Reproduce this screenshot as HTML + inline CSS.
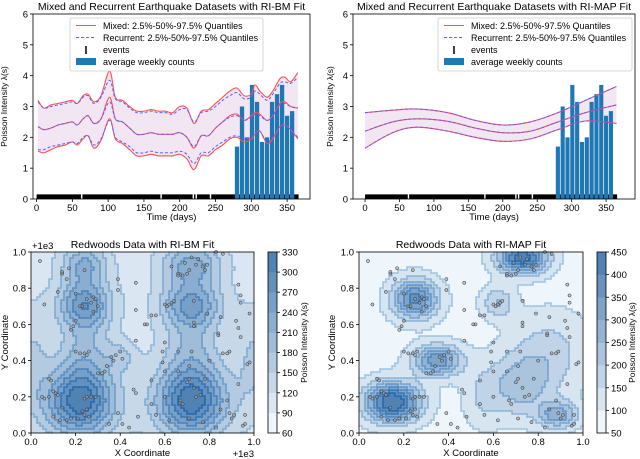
<!DOCTYPE html>
<html><head><meta charset="utf-8"><style>
html,body{margin:0;padding:0;background:#fff}
svg{display:block;font-family:"Liberation Sans","DejaVu Sans",sans-serif}
</style></head><body>
<svg id="fig" width="640" height="459" viewBox="0 0 640 459"></svg>
<script>
// ---------- Data ----------
const bmDays = [2,10,20,30,40,50,57,65,72,80,90,102,110,120,130,140,150,160,170,180,190,200,210,220,230,240,250,260,270,280,290,300,305,312,322,330,340,347,355,365];
const bmMixMed = [2.35,2.25,2.3,2.4,2.45,2.5,2.4,2.6,2.7,2.45,2.6,3.3,2.6,2.5,2.3,2.1,2.1,2.15,2.1,2.1,2.1,2.15,2.0,1.65,2.05,2.05,2.3,2.5,2.7,2.75,2.55,2.7,2.8,2.75,2.55,2.7,3.1,3.15,3.0,2.95];
const bmMixHi  = [3.2,2.95,3.05,3.1,3.15,3.2,3.1,3.35,3.4,3.15,3.35,4.15,3.3,3.2,3.0,2.85,2.85,2.9,2.85,2.85,2.8,3.0,2.95,2.45,2.85,2.9,3.1,3.3,3.5,3.6,3.35,3.4,3.7,3.5,3.3,3.5,3.9,3.95,3.8,4.1];
const bmMixLo  = [1.55,1.5,1.6,1.7,1.75,1.85,1.75,1.95,2.05,1.65,1.9,2.6,1.95,1.8,1.6,1.4,1.4,1.45,1.4,1.4,1.4,1.45,1.3,0.95,1.4,1.4,1.6,1.75,1.95,2.0,1.85,1.95,2.1,2.2,1.8,1.95,2.35,2.4,2.25,1.95];
const bmRecMed = [2.35,2.25,2.3,2.4,2.45,2.5,2.4,2.6,2.7,2.45,2.6,3.15,2.6,2.5,2.3,2.1,2.1,2.15,2.1,2.1,2.1,2.15,2.0,1.7,2.05,2.05,2.3,2.5,2.65,2.7,2.55,2.65,2.75,2.7,2.55,2.7,3.05,3.1,3.0,2.95];
const bmRecHi  = [3.15,2.95,3.0,3.05,3.1,3.15,3.1,3.3,3.35,3.1,3.3,3.85,3.25,3.15,2.95,2.8,2.8,2.85,2.8,2.8,2.75,2.9,2.9,2.5,2.8,2.85,3.0,3.2,3.35,3.45,3.25,3.3,3.5,3.4,3.2,3.4,3.75,3.8,3.75,3.95];
const bmRecLo  = [1.6,1.6,1.7,1.75,1.8,1.85,1.8,2.0,2.05,1.75,1.95,2.55,2.0,1.85,1.7,1.5,1.5,1.55,1.5,1.5,1.5,1.55,1.45,1.15,1.5,1.5,1.7,1.85,2.0,2.05,1.95,2.0,2.1,2.2,1.85,2.0,2.35,2.4,2.25,2.0];
const mapDays = [0,40,75,120,160,200,240,280,320,365];
const mapMed = [2.2,2.5,2.6,2.52,2.3,2.15,2.2,2.5,2.8,3.05];
const mapHi  = [2.8,2.88,2.92,2.8,2.55,2.4,2.5,2.8,3.2,3.65];
const mapLo  = [1.65,2.15,2.33,2.2,2.0,1.87,1.95,2.25,2.53,2.45];
const barDays = [280,287,294,301,308,315,322,329,336,343,350,357];
const barVals = [1.7,3.0,2.0,3.7,3.15,1.85,2.0,3.15,3.4,3.7,2.7,2.85];
const eventSegs = [[0,62],[64,173],[175,218],[220,222],[224,242],[244,366]];
const bmBlobs = [[0.22,0.17,210,0.11,0.13],[0.72,0.17,210,0.11,0.13],[0.24,0.71,150,0.08,0.09],[0.72,0.71,140,0.09,0.09],[0.24,0.93,110,0.07,0.08],[0.72,0.93,120,0.09,0.08],[0.24,0.45,70,0.08,0.15],[0.72,0.45,70,0.09,0.15],[0.4,0.42,50,0.05,0.06],[0.0,0.4,50,0.06,0.2],[1.0,0.4,50,0.06,0.2]];
const bmBase = 105;
const mapBlobs = [[0.15,0.17,380,0.085,0.075],[0.73,0.97,360,0.075,0.06],[0.25,0.74,290,0.07,0.075],[0.35,0.4,260,0.075,0.06],[0.89,0.1,200,0.06,0.05],[0.72,0.26,140,0.1,0.12],[0.85,0.45,90,0.12,0.15],[0.62,0.72,120,0.05,0.06],[0.55,0.2,60,0.06,0.12]];
const mapBase = 80;
const bmLevels = [60,90,120,150,180,210,240,270,300,330];
const mapLevels = [50,100,150,200,250,300,350,400,450];
const trees = [[0.04,0.95],[0.06,0.71],[0.12,0.78],[0.14,0.88],[0.14,0.89],[0.16,0.85],[0.17,0.91],[0.24,0.9],[0.2,0.77],[0.22,0.7],[0.23,0.7],[0.25,0.74],[0.27,0.72],[0.28,0.75],[0.29,0.74],[0.3,0.7],[0.28,0.67],[0.2,0.62],[0.19,0.59],[0.18,0.57],[0.2,0.45],[0.24,0.44],[0.25,0.43],[0.26,0.45],[0.22,0.44],[0.3,0.33],[0.32,0.33],[0.33,0.34],[0.34,0.37],[0.36,0.42],[0.38,0.43],[0.4,0.45],[0.41,0.41],[0.37,0.4],[0.39,0.79],[0.39,0.85],[0.47,0.83],[0.47,0.68],[0.54,0.65],[0.51,0.6],[0.52,0.6],[0.47,0.51],[0.08,0.3],[0.09,0.29],[0.1,0.23],[0.11,0.22],[0.12,0.21],[0.05,0.2],[0.06,0.19],[0.08,0.2],[0.14,0.14],[0.1,0.09],[0.13,0.07],[0.16,0.07],[0.18,0.08],[0.21,0.08],[0.23,0.12],[0.24,0.1],[0.25,0.13],[0.24,0.19],[0.25,0.2],[0.27,0.2],[0.29,0.2],[0.26,0.09],[0.35,0.05],[0.39,0.11],[0.41,0.05],[0.44,0.03],[0.46,0.24],[0.47,0.22],[0.48,0.09],[0.54,0.29],[0.54,0.16],[0.56,0.1],[0.6,0.5],[0.59,0.45],[0.59,0.39],[0.6,0.34],[0.6,0.2],[0.62,0.07],[0.66,0.34],[0.66,0.45],[0.67,0.18],[0.68,0.16],[0.7,0.28],[0.71,0.3],[0.71,0.37],[0.72,0.45],[0.73,0.25],[0.74,0.2],[0.76,0.21],[0.78,0.3],[0.71,0.08],[0.77,0.06],[0.8,0.4],[0.83,0.03],[0.85,0.13],[0.86,0.44],[0.88,0.44],[0.89,0.45],[0.88,0.18],[0.89,0.11],[0.9,0.08],[0.91,0.1],[0.93,0.27],[0.95,0.04],[0.96,0.1],[0.96,0.05],[0.97,0.38],[0.98,0.39],[0.93,0.82],[0.94,0.76],[0.94,0.72],[0.93,0.58],[0.94,0.53],[0.92,0.62],[0.84,0.54],[0.84,0.55],[0.85,0.64],[0.79,0.66],[0.73,0.73],[0.73,0.61],[0.73,0.59],[0.75,0.96],[0.72,0.97],[0.74,0.93],[0.77,0.92],[0.78,0.9],[0.79,0.93],[0.66,0.88],[0.66,0.87],[0.68,0.87],[0.7,0.88],[0.71,0.9],[0.69,0.94],[0.83,1.0],[0.86,0.99],[0.63,0.92],[0.6,0.71],[0.61,0.7],[0.62,0.71],[0.63,0.72],[0.64,0.73],[0.56,0.65],[0.98,0.66]];
const tickT = [0,50,100,150,200,250,300,350];
const tickY = [0,1,2,3,4,5,6];
const tickU = ["0.0","0.2","0.4","0.6","0.8","1.0"];

// ---------- helpers ----------
const NS="http://www.w3.org/2000/svg";
const fig=document.getElementById('fig');
function mk(tag,attrs,parent){const e=document.createElementNS(NS,tag);for(const k in attrs)e.setAttribute(k,attrs[k]);(parent||fig).appendChild(e);return e;}
function txt(s,x,y,size,anchor,parent,rot){const t=mk('text',{x:x,y:y,'font-size':size,'text-anchor':anchor||'middle',fill:'#000'},parent);if(rot)t.setAttribute('transform',`rotate(-90 ${x} ${y})`);t.textContent=s;return t;}
function smooth(pts){let d=`M${pts[0][0]},${pts[0][1]}`;for(let i=0;i<pts.length-1;i++){const p0=pts[Math.max(0,i-1)],p1=pts[i],p2=pts[i+1],p3=pts[Math.min(pts.length-1,i+2)];d+=` C${p1[0]+(p2[0]-p0[0])/6},${p1[1]+(p2[1]-p0[1])/6} ${p2[0]-(p3[0]-p1[0])/6},${p2[1]-(p3[1]-p1[1])/6} ${p2[0]},${p2[1]}`;}return d;}

function timePanel(o){
  const g=mk('g',{});
  
  
  const sx=d=>o.x0+(d-o.dmin)/(o.dmax-o.dmin)*(o.x1-o.x0);
  const sy=v=>o.y1-v/6*(o.y1-o.y0);
  const hiPts=o.days.map((d,i)=>[sx(d),sy(o.mixHi[i])]);
  const loPts=o.days.map((d,i)=>[sx(d),sy(o.mixLo[i])]).reverse();
  const band=mk('path',{d:smooth(hiPts)+' L'+smooth(loPts).slice(1)+' Z',fill:'#ecdcee',opacity:0.7},g);
  
  eventSegs.forEach(s=>{const r=mk('rect',{x:sx(s[0]),y:sy(0.15),width:sx(s[1])-sx(s[0]),height:sy(0)-sy(0.15),fill:'#000'},g);
    });
  const bw=(sx(6)-sx(0));
  barDays.forEach((d,i)=>{const r=mk('rect',{x:sx(d)-bw/2,y:sy(barVals[i]),width:bw,height:sy(0)-sy(barVals[i]),fill:'#1f77b4'},g);
    });
  [o.mixLo,o.mixMed,o.mixHi].forEach(a=>{const p=mk('path',{d:smooth(o.days.map((d,i)=>[sx(d),sy(a[i])])),fill:'none',stroke:'#ff5050',"stroke-width":1.1},g);
    });
  [o.recLo,o.recMed,o.recHi].forEach(a=>{const p=mk('path',{d:smooth(o.days.map((d,i)=>[sx(d),sy(a[i])])),fill:'none',stroke:'#6060ff',"stroke-width":1,"stroke-dasharray":"3,2"},g);
    });
  mk('rect',{x:o.x0,y:o.y0,width:o.x1-o.x0,height:o.y1-o.y0,fill:'none',stroke:'#000','stroke-width':0.8},g);
  tickT.forEach(t=>{mk('line',{x1:sx(t),x2:sx(t),y1:o.y1,y2:o.y1+3,stroke:'#000','stroke-width':0.8},g);txt(String(t),sx(t),o.y1+12,9.5,'middle',g);});
  tickY.forEach(t=>{mk('line',{x1:o.x0-3,x2:o.x0,y1:sy(t),y2:sy(t),stroke:'#000','stroke-width':0.8},g);txt(String(t),o.x0-5,sy(t)+3.5,9.5,'end',g);});
  const tt=txt(o.title,(o.x0+o.x1)/2,10,10.5,'middle',g);
  const xl=txt('Time (days)',(o.x0+o.x1)/2,220,9.5,'middle',g);
  const yl=txt('Poisson Intensity λ(s)',o.ylx,(o.y0+o.y1)/2,8.5,'middle',g,true);
  const L=mk('g',{},g);
  mk('rect',{x:o.lx,y:18,width:o.lw,height:53,fill:'#fff',stroke:'#ccc','stroke-width':0.8,rx:2},L);
  const ex=o.lx+6;
  mk('line',{x1:ex,x2:ex+20,y1:25.5,y2:25.5,stroke:'#ff5050','stroke-width':1.1},L);
  mk('line',{x1:ex,x2:ex+20,y1:37.5,y2:37.5,stroke:'#6060ff','stroke-width':1,'stroke-dasharray':'3,2'},L);
  mk('line',{x1:ex+10,x2:ex+10,y1:46,y2:54,stroke:'#000','stroke-width':1.5},L);
  mk('rect',{x:ex,y:58,width:20,height:7,fill:'#1f77b4'},L);
  txt('Mixed: 2.5%-50%-97.5% Quantiles',ex+27,29,9,'start',L);
  txt('Recurrent: 2.5%-50%-97.5% Quantiles',ex+27,41,9,'start',L);
  txt('events',ex+27,53,9,'start',L);
  txt('average weekly counts',ex+27,65,9,'start',L);
}
timePanel({name:'ri-bm-time-panel',x0:33,x1:310,y0:14,y1:199,dmin:-5,dmax:382,days:bmDays,mixMed:bmMixMed,mixHi:bmMixHi,mixLo:bmMixLo,recMed:bmRecMed,recHi:bmRecHi,recLo:bmRecLo,title:'Mixed and Recurrent Earthquake Datasets with RI-BM Fit',ylx:7,lx:70,lw:193});
timePanel({name:'ri-map-time-panel',x0:353,x1:635,y0:14,y1:199,dmin:-17.5,dmax:392,days:mapDays,mixMed:mapMed,mixHi:mapHi,mixLo:mapLo,recMed:mapMed,recHi:mapHi,recLo:mapLo,title:'Mixed and Recurrent Earthquake Datasets with RI-MAP Fit',ylx:333,lx:438,lw:194});

// ---------- contour panels ----------
function lerpC(a,b,t){return a.map((v,i)=>Math.round(v+(b[i]-v)*t));}
function bandColor(i,n){const c=lerpC([238,245,251],[80,130,180],i/(n-1));return `rgb(${c[0]},${c[1]},${c[2]})`;}
function lineColor(i,n){const c=lerpC([170,205,230],[30,100,170],i/(n-1));return `rgb(${c[0]},${c[1]},${c[2]})`;}
function contourPanel(o){
  const g=mk('g',{});
  
  
  const sx=u=>o.x0+u*(o.x1-o.x0), sy=v=>o.y1-v*(o.y1-o.y0);
  const field=(u,v)=>{let s=o.base;o.blobs.forEach(b=>{s+=b[2]*Math.exp(-((u-b[0])**2)/(2*b[3]*b[3])-((v-b[1])**2)/(2*b[4]*b[4]));});return s;};
  const L=o.levels,n=L.length-1,cs=3;
  const W=o.x1-o.x0,H=o.y1-o.y0;
  const nx=Math.ceil(W/cs),ny=Math.ceil(H/cs);const K=[];
  for(let iy=0;iy<ny;iy++){K.push([]);for(let ix=0;ix<nx;ix++){
    const px=ix*cs,py=iy*cs;const u=(px+cs/2)/W,v=1-(py+cs/2)/H;const f=field(u,v);
    let k=0;while(k<n-1&&f>L[k+1])k++;K[iy].push(k);
    const r=mk('rect',{x:o.x0+px,y:o.y0+py,width:Math.min(cs,W-px)+0.3,height:Math.min(cs,H-py)+0.3,fill:bandColor(k,n)},g);
    
    
  }}
  const lg=mk('g',{'stroke-linecap':'round'},g);
  
  for(let iy=0;iy<ny;iy++)for(let ix=0;ix<nx;ix++){
    const k=K[iy][ix];
    if(ix+1<nx&&K[iy][ix+1]!==k){const m=Math.max(k,K[iy][ix+1]);const x=o.x0+(ix+1)*cs;mk('line',{x1:x,x2:x,y1:o.y0+iy*cs,y2:Math.min(o.y1,o.y0+(iy+1)*cs),stroke:lineColor(m,n),'stroke-width':1.6,'stroke-opacity':0.8},lg);}
    if(iy+1<ny&&K[iy+1][ix]!==k){const m=Math.max(k,K[iy+1][ix]);const y=o.y0+(iy+1)*cs;mk('line',{y1:y,y2:y,x1:o.x0+ix*cs,x2:Math.min(o.x1,o.x0+(ix+1)*cs),stroke:lineColor(m,n),'stroke-width':1.6,'stroke-opacity':0.8},lg);}
  }
  trees.forEach(p=>{const c=mk('circle',{cx:sx(p[0]),cy:sy(p[1]),r:1.6,fill:'#9aa0a6','fill-opacity':0.6,stroke:'#333','stroke-width':0.5},g);
    });
  mk('rect',{x:o.x0,y:o.y0,width:W,height:H,fill:'none',stroke:'#000','stroke-width':0.8},g);
  tickU.forEach((t,i)=>{const u=i/5;
    mk('line',{x1:sx(u),x2:sx(u),y1:o.y1,y2:o.y1+3,stroke:'#000','stroke-width':0.8},g);txt(t,sx(u),o.y1+12,9.5,'middle',g);
    mk('line',{x1:o.x0-3,x2:o.x0,y1:sy(u),y2:sy(u),stroke:'#000','stroke-width':0.8},g);txt(t,o.x0-5,sy(u)+3.5,9.5,'end',g);});
  if(o.offset){txt('+1e3',o.x0+1,o.y0-3,9.5,'start',g);txt('+1e3',o.x1,o.y1+24,9.5,'end',g);}
  const tt=txt(o.title,(o.x0+o.x1)/2,248,10.5,'middle',g);
  const xl=txt('X Coordinate',(o.x0+o.x1)/2,456,9.5,'middle',g);
  const yl=txt('Y Coordinate',o.ylx,(o.y0+o.y1)/2,9.5,'middle',g,true);
  const cb=mk('g',{},g);
  const bh=H/n;
  for(let i=0;i<n;i++){mk('rect',{x:o.cx,y:o.y1-(i+1)*bh,width:o.cw,height:bh+0.3,fill:bandColor(i,n)},cb);}
  mk('rect',{x:o.cx,y:o.y0,width:o.cw,height:H,fill:'none',stroke:'#000','stroke-width':0.8},cb);
  L.forEach((l,i)=>{const y=o.y1-i*bh;mk('line',{x1:o.cx+o.cw,x2:o.cx+o.cw+3,y1:y,y2:y,stroke:'#000','stroke-width':0.8},cb);txt(String(l),o.cx+o.cw+5,y+3.5,9.5,'start',cb);});
  txt('Poisson Intensity λ(s)',o.clx,(o.y0+o.y1)/2,8.5,'middle',cb,true);
}
contourPanel({name:'ri-bm-redwoods-panel',x0:31,x1:254,y0:252,y1:433,blobs:bmBlobs,base:bmBase,levels:bmLevels,title:'Redwoods Data with RI-BM Fit',ylx:8,cx:268,cw:9,clx:307,offset:true});
contourPanel({name:'ri-map-redwoods-panel',x0:359,x1:583,y0:252,y1:433,blobs:mapBlobs,base:mapBase,levels:mapLevels,title:'Redwoods Data with RI-MAP Fit',ylx:335,cx:597,cw:9,clx:635,offset:false});
</script>
</body></html>
